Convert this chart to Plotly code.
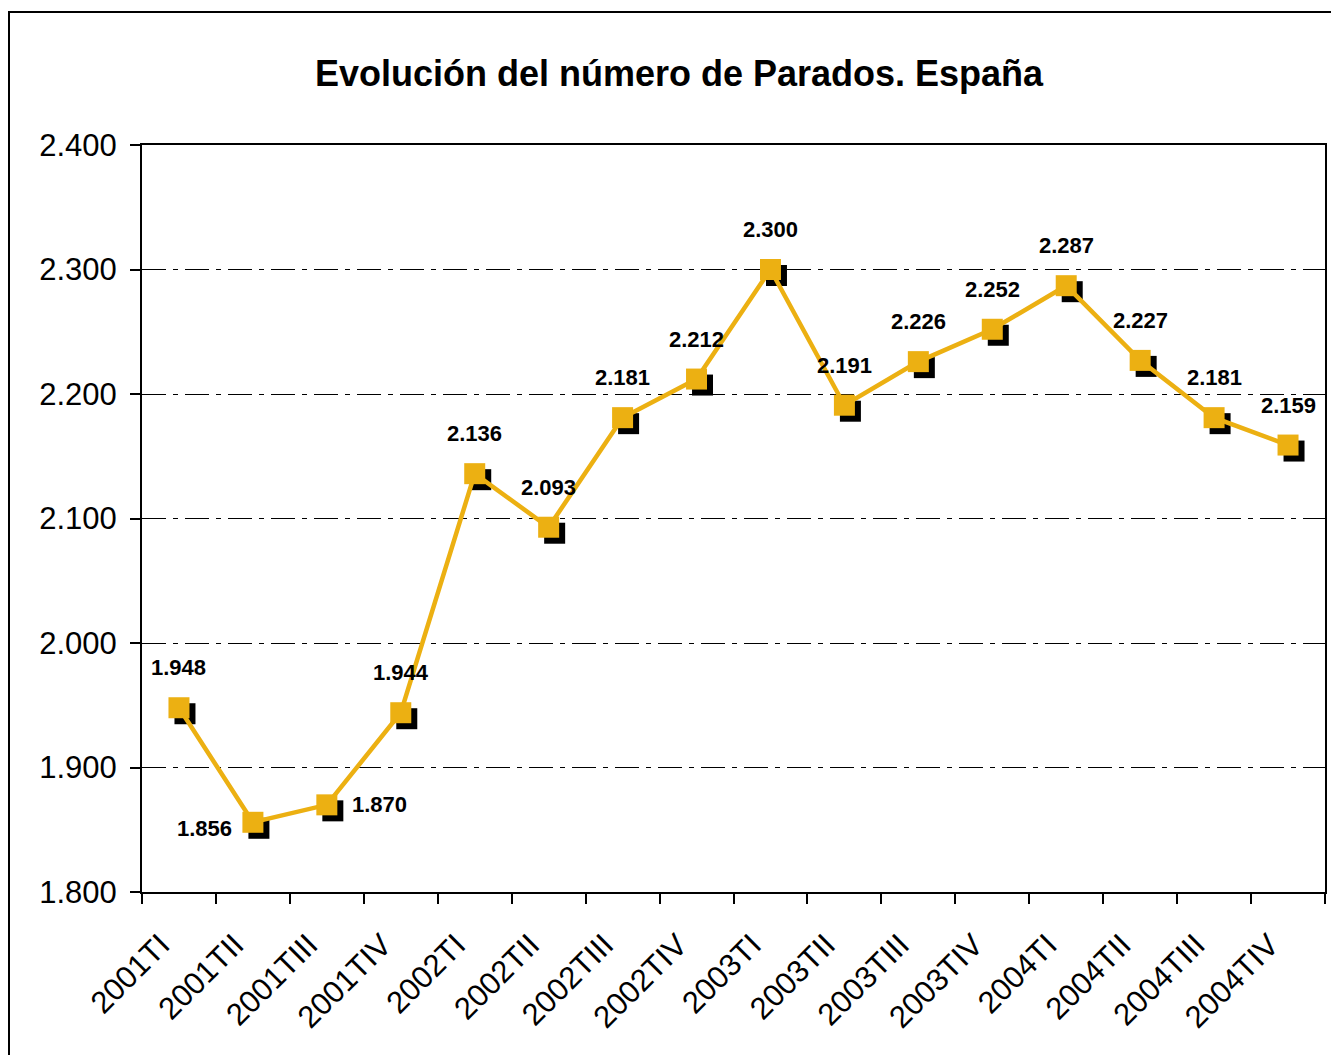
import plotly.graph_objects as go

trimestres = ["2001TI", "2001TII", "2001TIII", "2001TIV",
              "2002TI", "2002TII", "2002TIII", "2002TIV",
              "2003TI", "2003TII", "2003TIII", "2003TIV",
              "2004TI", "2004TII", "2004TIII", "2004TIV"]
parados = [1948, 1856, 1870, 1944, 2136, 2093, 2181, 2212,
           2300, 2191, 2226, 2252, 2287, 2227, 2181, 2159]
y_ticks = [1800, 1900, 2000, 2100, 2200, 2300, 2400]

gold = "#ECB012"
font = "Liberation Sans, Arial, sans-serif"

# figure size / plot area in px
W, H = 1323, 1047
L, T = 134, 137
PW, PH = 1183, 747
SH = 6  # shadow offset px
R = W - L - PW - SH
B = H - T - PH - SH
sx = SH / (PW + SH)
sy = SH / (PH + SH)

fig = go.Figure()

# shadow squares (drawn on a shifted, hidden axis pair)
fig.add_trace(go.Scatter(
    x=trimestres, y=parados, mode="markers",
    marker=dict(symbol="square", size=21, color="black"),
    xaxis="x", yaxis="y", hoverinfo="skip", showlegend=False))

fig.add_trace(go.Scatter(
    x=trimestres, y=parados, mode="lines+markers",
    line=dict(color=gold, width=4.5),
    marker=dict(symbol="square", size=21, color=gold),
    xaxis="x2", yaxis="y2", showlegend=False, name="Parados"))

# data labels
for i, (q, v) in enumerate(zip(trimestres, parados)):
    dx, dy = 0, 40
    if i == 1:
        dx, dy = -48, -6
    elif i == 2:
        dx, dy = 53, 0
    fig.add_annotation(
        x=q, y=v, xref="x2", yref="y2", showarrow=False,
        text=f"{v/1000:.3f}",
        xshift=dx, yshift=dy,
        font=dict(family=font, size=22, color="black", weight="bold"))

yr = [1800, 2400]
fig.update_layout(
    width=W, height=H,
    margin=dict(l=L, r=R, t=T, b=B),
    paper_bgcolor="white", plot_bgcolor="rgba(0,0,0,0)",
    separators=",.",
    font=dict(family=font, color="black"),
    title=dict(text="<b>Evolución del número de Parados. España</b>",
               x=671 / W, xanchor="center", y=1 - 65 / H, yanchor="middle",
               xref="container", yref="container",
               font=dict(family=font, size=36, color="black")),
    xaxis=dict(domain=[sx, 1], visible=False, type="category",
               categoryarray=trimestres, range=[-0.5, 15.5]),
    yaxis=dict(domain=[0, 1 - sy], visible=False, range=yr),
    xaxis2=dict(domain=[0, 1 - sx], anchor="y2", type="category",
                categoryarray=trimestres, range=[-0.5, 15.5],
                tickvals=trimestres,
                ticktext=[q + "\u00a0\u00a0\u00a0" for q in trimestres],
                showline=True, linecolor="black", linewidth=2, mirror=True,
                ticks="outside", tickson="boundaries", ticklen=10,
                tickcolor="black", tickwidth=2, tickangle=-45,
                ticklabelstandoff=2,
                tickfont=dict(family=font, size=31, color="black"),
                showgrid=False),
    yaxis2=dict(domain=[sy, 1], anchor="x2", range=yr,
                tickvals=y_ticks, tickformat=",d",
                showline=True, linecolor="black", linewidth=2, mirror=True,
                ticks="outside", ticklen=10, tickcolor="black", tickwidth=2,
                ticklabelstandoff=7,
                tickfont=dict(family=font, size=31, color="black"),
                showgrid=True, gridcolor="black", gridwidth=1,
                griddash="24px,7px,5px,7px", zeroline=False),
)

# outer chart frame
fig.add_shape(type="rect", xref="paper", yref="paper",
              x0=(1 - L) / (PW + SH), x1=1.1,
              y0=-0.5, y1=1 + (T - 4) / (PH + SH),
              line=dict(color="black", width=2), layer="below")

fig.write_html("out.html")
